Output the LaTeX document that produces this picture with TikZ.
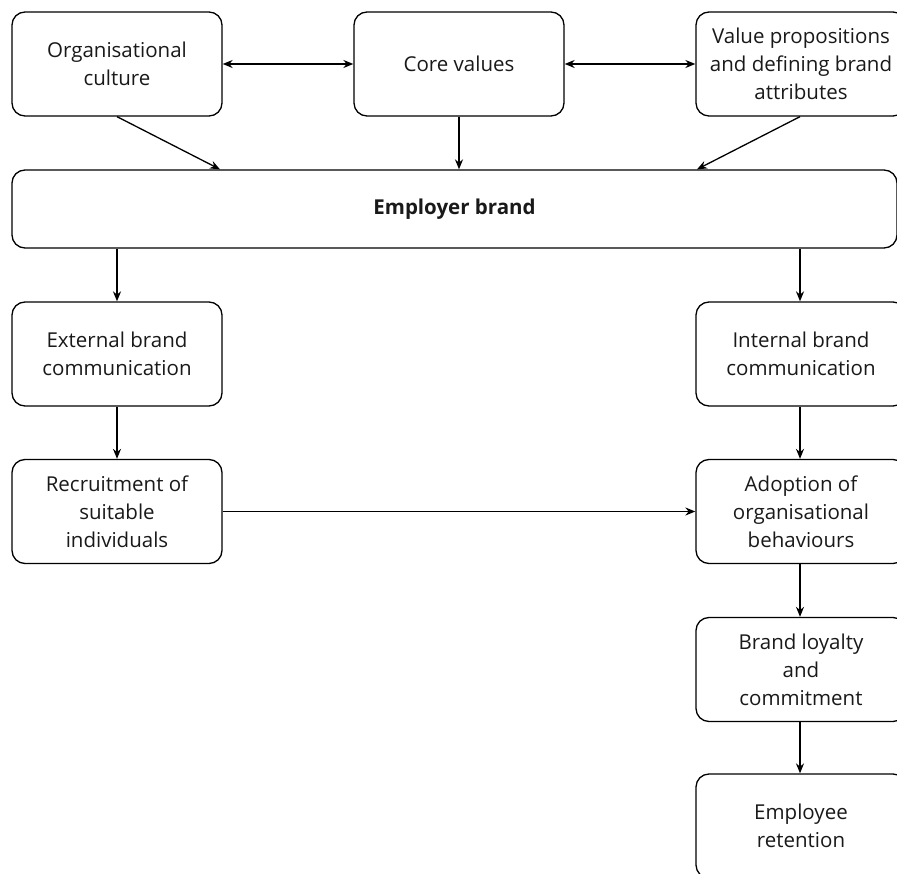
\documentclass[tikz,border=0pt]{standalone}
\usepackage{fontspec}
\setmainfont{Open Sans}
\usetikzlibrary{arrows.meta}
\begin{document}
\begin{tikzpicture}[x=1pt,y=-1pt,
  box/.style={draw, line width=1.3pt, rounded corners=13pt, minimum width=210pt,
    minimum height=104pt, align=center, inner sep=0pt, font=\fontsize{20.5}{28}\selectfont, text=black!90},
  arr/.style={line width=1.3pt, -{Stealth[length=10pt,width=8pt]}},
  darr/.style={line width=1.3pt, {Stealth[length=10pt,width=8pt]}-{Stealth[length=10pt,width=8pt]}}]
\useasboundingbox (0,0) rectangle (897,874);
\clip (0,0) rectangle (897,874);
\node[box] (org) at (117,64) {Organisational\\culture};
\node[box] (core) at (459,64) {Core values};
\node[box] (val) at (801,64) {Value propositions\\and defining brand\\attributes};
\node[box, minimum width=885pt, minimum height=78pt, font=\fontsize{20.5}{28}\selectfont\bfseries] (emp) at (454.5,209) {Employer brand};
\node[box] (ext) at (117,354) {External brand\\communication};
\node[box] (int) at (801,354) {Internal brand\\communication};
\node[box] (rec) at (117,511.5) {Recruitment of\\suitable\\individuals};
\node[box] (adp) at (801,511.5) {Adoption of\\organisational\\behaviours};
\node[box] (loy) at (801,669.5) {Brand loyalty\\and\\commitment};
\node[box] (ret) at (801,826) {Employee\\retention};
\draw[darr] (org.east) -- (core.west);
\draw[darr] (core.east) -- (val.west);
\draw[arr] (org.south) -- (emp.north -| 220,0);
\draw[arr] (core.south) -- (emp.north -| core.south);
\draw[arr] (val.south -| 800,0) -- (emp.north -| 697,0);
\draw[arr] (emp.south -| ext.north) -- (ext.north);
\draw[arr] (emp.south -| 800,0) -- (int.north -| 800,0);
\draw[arr] (ext.south) -- (rec.north);
\draw[arr] (int.south -| 800,0) -- (adp.north -| 800,0);
\draw[arr] (rec.east) -- (adp.west);
\draw[arr] (adp.south -| 800,0) -- (loy.north -| 800,0);
\draw[arr] (loy.south -| 800,0) -- (ret.north -| 800,0);
\end{tikzpicture}
\end{document}
